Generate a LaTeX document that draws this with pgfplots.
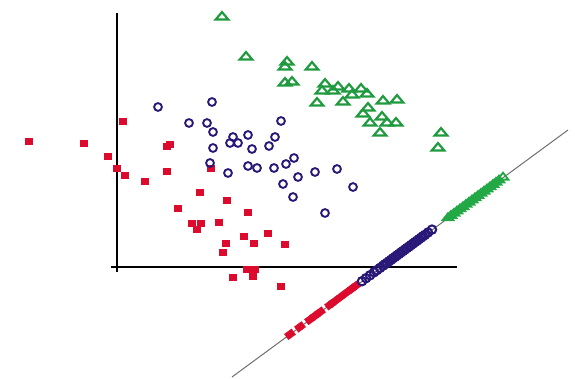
\documentclass[border=0pt]{standalone}
\usepackage{pgfplots}
\pgfplotsset{compat=1.18}
\definecolor{cred}{HTML}{DC0A2C}
\definecolor{cblue}{HTML}{2A1878}
\definecolor{cgreen}{HTML}{1F9A3E}
\definecolor{cgreenb}{HTML}{22A845}
\definecolor{cline}{HTML}{6E6E6E}
\begin{document}
\begin{tikzpicture}
\begin{axis}[width=575pt,height=379pt,scale only axis,
  xmin=0,xmax=575,ymin=0,ymax=379,y dir=reverse,hide axis,clip=false]
\addplot[draw=none,forget plot] coordinates {(0,0) (575,379)};
% axes
\addplot[black,line width=2.6pt] coordinates {(117,13) (117,272)};
\addplot[black,line width=2.6pt] coordinates {(111,267) (457,267)};
% projection line
\addplot[cline,line width=1pt] coordinates {(232,377) (568,130)};
% red class
\addplot[only marks,mark=square*,color=cred,mark size=3.6pt,mark options={yscale=0.8}] coordinates {
(29,141) (84,143) (108,156) (123,121) (117,168) (125,175) (145,181) (167,146) (170,144)
(167,171) (200,192) (211,168) (227,200) (178,208) (248,212) (192,223) (201,223) (197,229)
(219,222) (244,236) (268,233) (226,243) (254,243) (285,244) (223,252) (247,269) (255,269)
(253,276) (233,277) (281,286)};
% blue class
\addplot[only marks,mark=o,color=cblue,mark size=3.9pt,line width=1.9pt] coordinates {
(158,107) (212,102) (189,123) (207,123) (213,132) (233,137) (248,135) (230,143) (238,143)
(213,148) (252,149) (275,137) (269,146) (281,121) (210,163) (228,173) (248,166) (257,168)
(274,168) (286,164) (294,158) (298,177) (283,184) (315,172) (337,169) (353,187) (293,197)
(325,213)};
% green class
\addplot[only marks,mark=triangle,color=cgreen,mark size=7.2pt,line width=2.2pt,mark options={yscale=0.68}] coordinates {
(222,17) (246,57) (287,62) (285,67) (312,67) (285,83) (292,82) (325,84) (322,91) (333,91)
(338,87) (349,89) (361,89) (352,95) (367,94) (317,103) (343,102) (383,101) (397,100)
(368,108) (363,114) (382,117) (370,123) (387,123) (396,123) (380,133) (441,133) (438,148)};
% projections
\addplot[only marks,mark=square*,color=cred,mark size=4pt,mark options={rotate=36,xscale=1.1,yscale=0.85}] coordinates {
(290,334.3) (300,326.9) (310,319.5) (315,315.8) (320,312.1) (330,304.8) (333,302.6)
(340,297.4) (347,292.2) (352,288.6) (355,286.3)};
\addplot[only marks,mark=o,color=cblue,mark size=4.2pt,line width=2.1pt] coordinates {
(362,281.2) (366,278.2) (370,275.3) (374,272.3) (377,270.1) (380,267.9) (383,265.7)
(385,264.2) (387,262.8) (389,261.3) (391,259.8) (393,258.3) (395,256.9) (397,255.4)
(399,253.9) (401,252.4) (403,251.0) (405,249.5) (407,248.0) (409,246.6) (411,245.1)
(413,243.6) (415,242.1) (417,240.7) (419,239.2) (421,237.7) (423,236.2) (425,234.8)
(428,232.5) (432,229.6)};
\addplot[only marks,mark=triangle*,color=cgreenb,mark size=6.2pt,line width=1.8pt,mark options={yscale=0.75}] coordinates {
(448,217.8) (451,215.6) (454,213.4) (457,211.2) (460,209.0) (463,206.8) (466,204.5)
(469,202.3) (472,200.1) (475,197.9) (478,195.7) (481,193.5) (484,191.3) (487,189.1)
(490,186.9) (493,184.6) (496,182.4) (499,180.2)};
\addplot[only marks,mark=triangle,color=cgreenb,mark size=6.2pt,line width=1.8pt,mark options={yscale=0.75}] coordinates {(503,177.3)};
\end{axis}
\end{tikzpicture}
\end{document}
